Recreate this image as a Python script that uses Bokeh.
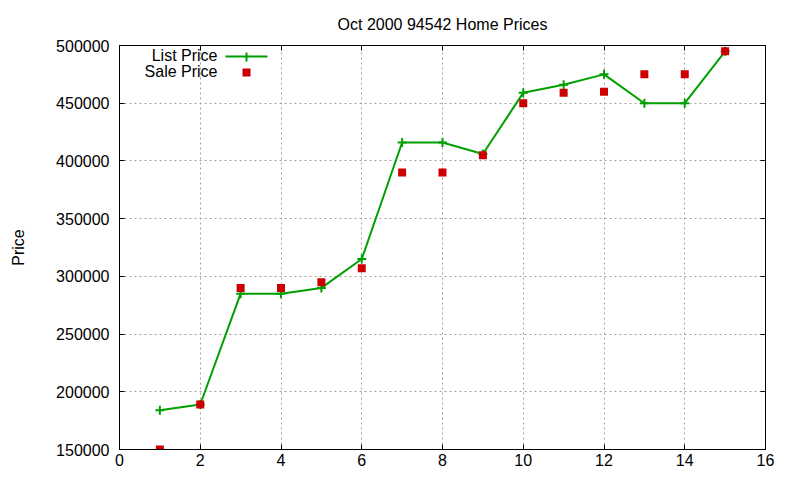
from bokeh.plotting import figure
from bokeh.models import (Range1d, LinearAxis, SingleIntervalTicker, BasicTickFormatter,
                          Label, BoxAnnotation, Grid)
from bokeh.embed import file_html
from bokeh.resources import INLINE

# ---- data ----
house = [1, 2, 3, 4, 5, 6, 7, 8, 9, 10, 11, 12, 13, 14, 15]
list_price = [184000, 189000, 285000, 285000, 290000, 315000, 416000, 416000, 406000,
              459000, 466000, 475000, 450000, 450000, 495000]
sale_price = [150000, 189000, 290000, 290000, 295000, 307000, 390000, 390000, 405000,
              450000, 459000, 460000, 475000, 475000, 495000]
x_tick_values = [0, 2, 4, 6, 8, 10, 12, 14, 16]
y_tick_values = [150000, 200000, 250000, 300000, 350000, 400000, 450000, 500000]
title_text = "Oct 2000 94542 Home Prices"
y_label = "Price"
legend_labels = ["List Price", "Sale Price"]

FONT = "Liberation Sans"
GREEN = "#00a000"
RED = "#cc0000"

p = figure(width=800, height=480, output_backend="svg", toolbar_location=None,
           x_range=Range1d(0, 16), y_range=Range1d(150000, 500000),
           min_border_left=119, min_border_right=35, min_border_top=45, min_border_bottom=31,
           title=title_text, x_axis_type=None, y_axis_type=None)
p.background_fill_color = "white"
p.border_fill_color = "white"
p.outline_line_color = "black"
p.outline_line_width = 1
p.outline_line_alpha = 1

p.title.align = "center"
p.title.text_font = FONT
p.title.text_font_size = "16px"
p.title.text_font_style = "normal"
p.title.text_color = "black"
p.title.standoff = 26
p.title.offset = 4

xt = SingleIntervalTicker(interval=x_tick_values[1] - x_tick_values[0], num_minor_ticks=0)
yt = SingleIntervalTicker(interval=y_tick_values[1] - y_tick_values[0], num_minor_ticks=0)


def style_axis(ax):
    ax.axis_line_color = "black"
    ax.major_tick_line_color = "black"
    ax.major_tick_in = 5
    ax.major_tick_out = 0
    ax.minor_tick_line_color = None
    ax.major_label_text_font = FONT
    ax.major_label_text_color = "black"
    ax.major_label_text_font_size = "16px"


xb = LinearAxis(ticker=xt)
style_axis(xb)
xb.major_label_standoff = 4
p.add_layout(xb, "below")

yl = LinearAxis(ticker=yt, formatter=BasicTickFormatter(use_scientific=False))
style_axis(yl)
yl.major_label_standoff = 10
yl.axis_label = y_label
yl.axis_label_text_font = FONT
yl.axis_label_text_font_size = "16px"
yl.axis_label_text_font_style = "normal"
yl.axis_label_text_color = "black"
yl.axis_label_standoff = 26
p.add_layout(yl, "left")

# mirrored tick marks (no labels) on top and right
xtop = LinearAxis(ticker=xt, major_label_overrides={v: "" for v in x_tick_values})
style_axis(xtop)
xtop.major_label_standoff = 0
p.add_layout(xtop, "above")

yr = LinearAxis(ticker=yt, major_label_overrides={v: "" for v in y_tick_values})
style_axis(yr)
yr.major_label_standoff = 0
p.add_layout(yr, "right")

for dim, tk in ((0, xt), (1, yt)):
    g = Grid(dimension=dim, ticker=tk, grid_line_color="#a0a0a0",
             grid_line_dash="2 3", grid_line_width=1)
    p.add_layout(g)

# ---- data marks ----
p.line(house, list_price, line_color=GREEN, line_width=2)
p.scatter(house, list_price, marker="cross", size=9, line_color=GREEN, line_width=2)
p.scatter(house, sale_price, marker="square", size=8, fill_color=RED, line_color=None)

# ---- legend (gnuplot style: text then sample), frame-relative screen px ----
p.add_layout(Label(x=98, y=394, x_units="screen", y_units="screen", text=legend_labels[0],
                   text_align="right", text_baseline="alphabetic", text_font=FONT,
                   text_font_size="16px", text_color="black"))
p.add_layout(Label(x=98, y=378, x_units="screen", y_units="screen", text=legend_labels[1],
                   text_align="right", text_baseline="alphabetic", text_font=FONT,
                   text_font_size="16px", text_color="black"))
p.add_layout(BoxAnnotation(left=106, right=148, bottom=392, top=394,
                           left_units="screen", right_units="screen",
                           bottom_units="screen", top_units="screen",
                           fill_color=GREEN, fill_alpha=1, line_color=None))
p.add_layout(BoxAnnotation(left=126, right=128, bottom=388, top=397,
                           left_units="screen", right_units="screen",
                           bottom_units="screen", top_units="screen",
                           fill_color=GREEN, fill_alpha=1, line_color=None))
p.add_layout(BoxAnnotation(left=123, right=131, bottom=373, top=381,
                           left_units="screen", right_units="screen",
                           bottom_units="screen", top_units="screen",
                           fill_color=RED, fill_alpha=1, line_color=None))

open("out.html", "w").write(file_html(p, INLINE))
